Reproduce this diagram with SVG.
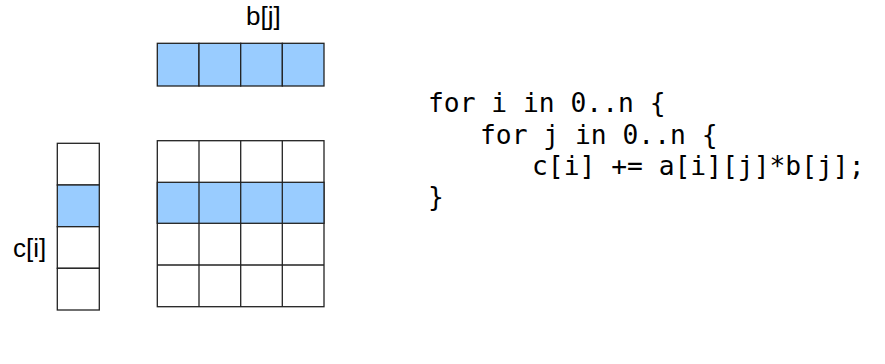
<svg xmlns="http://www.w3.org/2000/svg" width="885" height="364" viewBox="0 0 885 364">
  <style>
    .cell { fill: #ffffff; stroke: #222222; stroke-width: 1.3; }
    .hl { fill: #99ccff; stroke: #222222; stroke-width: 1.3; }
    .label { font-family: "Liberation Sans", Arial, sans-serif; font-size: 26px; fill: #000000; }
    .code { font-family: "DejaVu Sans Mono", monospace; font-size: 26.3px; fill: #000000; }
  </style>
  <rect width="885" height="364" fill="#ffffff"/>

  <!-- vector b -->
  <g id="vector-b">
    <rect class="hl" x="157.3" y="43.3" width="41.7" height="42.7"/>
    <rect class="hl" x="199" y="43.3" width="41.7" height="42.7"/>
    <rect class="hl" x="240.7" y="43.3" width="41.7" height="42.7"/>
    <rect class="hl" x="282.3" y="43.3" width="41.7" height="42.7"/>
    <text class="label" x="246" y="25">b[j]</text>
  </g>

  <!-- vector c -->
  <g id="vector-c">
    <rect class="cell" x="57.3" y="143.3" width="42" height="41.7"/>
    <rect class="hl" x="57.3" y="185" width="42" height="41.7"/>
    <rect class="cell" x="57.3" y="226.7" width="42" height="41.6"/>
    <rect class="cell" x="57.3" y="268.3" width="42" height="41.7"/>
    <text class="label" x="13" y="256.7">c[i]</text>
  </g>

  <!-- matrix a -->
  <g id="matrix-a">
    <rect class="cell" x="157.3" y="140.7" width="166.7" height="166"/>
    <rect class="hl" x="157.3" y="182.3" width="166.7" height="41"/>
    <g fill="none" stroke="#222222" stroke-width="1.3">
      <line x1="199" y1="140.7" x2="199" y2="306.7"/>
      <line x1="240.7" y1="140.7" x2="240.7" y2="306.7"/>
      <line x1="282.3" y1="140.7" x2="282.3" y2="306.7"/>
      <line x1="157.3" y1="265" x2="324" y2="265"/>
    </g>
  </g>

  <!-- loop code -->
  <g id="code">
    <text class="code" x="428" y="112">for i in 0..n {</text>
    <text class="code" x="480" y="143.5">for j in 0..n {</text>
    <text class="code" x="532" y="175">c[i] += a[i][j]*b[j];</text>
    <text class="code" x="428" y="206">}</text>
  </g>

  <g id="connectors"/>
</svg>
